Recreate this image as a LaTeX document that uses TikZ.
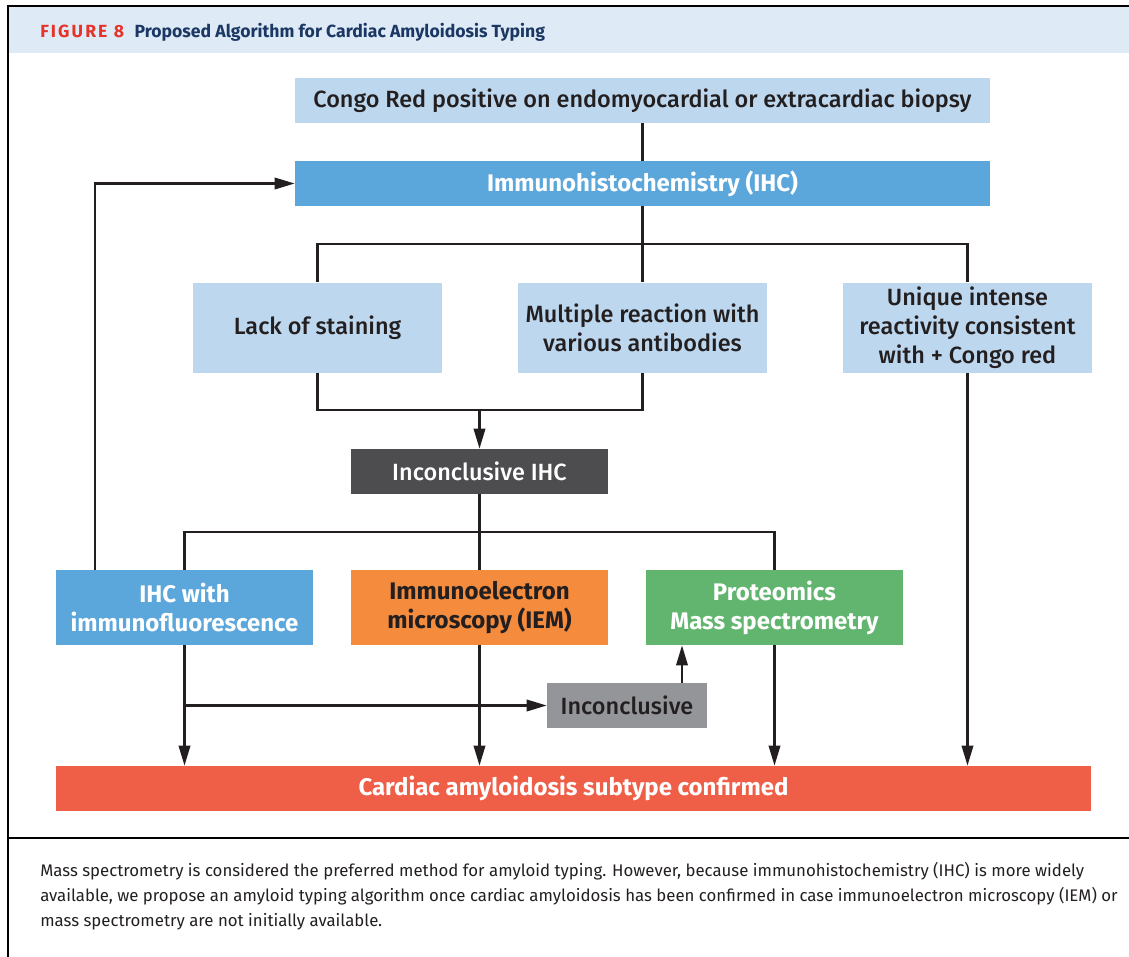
\documentclass[tikz,border=0pt]{standalone}
\usepackage{fontspec}
\setmainfont{Fira Sans}[UprightFont=* Medium, BoldFont=* Bold]
\newfontfamily\capfont{Fira Sans}
\usepackage{tikz}
\usetikzlibrary{arrows.meta,calc}

\definecolor{hdrbg}{HTML}{DEEAF6}
\definecolor{hdrnavy}{HTML}{1B3764}
\definecolor{hdrred}{HTML}{E5332A}
\definecolor{inkdark}{HTML}{231F20}
\definecolor{paleblue}{HTML}{BDD7EE}
\definecolor{ihcblue}{HTML}{5BA6DA}
\definecolor{slate}{HTML}{4D4D4F}
\definecolor{iemorange}{HTML}{F58C3D}
\definecolor{protgreen}{HTML}{62B56F}
\definecolor{incgray}{HTML}{939598}
\definecolor{confred}{HTML}{EF5E47}

\tikzset{
  box/.style={inner sep=0pt, align=center, font=\fontsize{17.6}{21.75}\selectfont},
  boldbox/.style={box, font=\bfseries\fontsize{18}{21.75}\selectfont},
  palebox/.style={box, fill=paleblue, text=inkdark},
  wline/.style={line width=1.8pt, draw=inkdark},
  arr/.style={wline, -{Triangle[length=15pt,width=8.5pt]}}
}

\begin{document}
\begin{tikzpicture}[x=0.75pt,y=0.75pt,yscale=-1,xscale=1]
\useasboundingbox (0,0) rectangle (1129,957);

% Frame and header
\fill[hdrbg] (8,7) rectangle (1129,53);
\draw[line width=1.5pt] (1129,6) -- (8,6) -- (8,957);
\draw[line width=1pt] (8,838) -- (1129,838);
\node (hdr) [anchor=base west, inner sep=0pt, font=\bfseries\fontsize{13.2}{15}\selectfont] at (40,37)
  {\textcolor{hdrred}{\addfontfeature{LetterSpace=12}FIGURE 8}\hspace{8pt}\textcolor{hdrnavy}{Proposed Algorithm for Cardiac Amyloidosis Typing}};

% Boxes
\node (congo) [palebox, minimum width=521.25pt, minimum height=33.75pt] at (642.5,100.5)
  {Congo Red positive on endomyocardial or extracardiac biopsy};
\node (ihc) [boldbox, fill=ihcblue, text=white, minimum width=521.25pt, minimum height=33.75pt] at (642.5,183.5)
  {Immunohistochemistry (IHC)};
\node (lack) [palebox, minimum width=186.75pt, minimum height=67.5pt] at (317.5,327.5)
  {Lack of staining};
\node (multi) [palebox, minimum width=186.75pt, minimum height=67.5pt] at (642.5,327.5)
  {Multiple reaction with\\various antibodies};
\node (unique) [palebox, minimum width=186.75pt, minimum height=67.5pt] at (967.5,327.5)
  {Unique intense\\reactivity consistent\\with + Congo red};
\node (incihc) [box, fill=slate, text=white, minimum width=192.75pt, minimum height=33.75pt] at (479.5,471.5)
  {Inconclusive IHC};
\node (ihcif) [boldbox, fill=ihcblue, text=white, minimum width=192.75pt, minimum height=56.25pt] at (184.5,607.5)
  {IHC with\\immunofluorescence};
\node (iem) [boldbox, fill=iemorange, text=inkdark, minimum width=192.75pt, minimum height=56.25pt] at (479.5,607.5)
  {Immunoelectron\\microscopy (IEM)};
\node (prot) [boldbox, fill=protgreen, text=white, minimum width=192.75pt, minimum height=56.25pt] at (774.5,607.5)
  {Proteomics\\Mass spectrometry};
\node (inc) [box, fill=incgray, text=inkdark, minimum width=120pt, minimum height=33.75pt] at (627,705.5)
  {Inconclusive};
\node (conf) [boldbox, fill=confred, text=white, minimum width=776.25pt, minimum height=33.75pt] at (573.5,788.5)
  {Cardiac amyloidosis subtype confirmed};

% Connectors
\coordinate (join1) at (479.5,410);
\coordinate (loopstart) at ($(ihcif.north west)+(39,0)$);
\coordinate (tee) at (ihcif.south |- inc.west);
\coordinate (incup) at ($(inc.north)+(55,0)$);

\draw[wline] (congo) -- (ihc);
\draw[arr] (loopstart) |- (ihc.west);
\draw[wline] (ihc) -- (multi);
\draw[wline] (lack.north) -- ++(0,-38) -| (unique.north);
\draw[wline] (lack.south) |- (join1) -| (multi.south);
\draw[arr] (join1) -- (incihc.north);
\draw[wline] (incihc) -- (iem);
\draw[wline] (ihcif.north) -- ++(0,-38) -| (prot.north);
\draw[arr] (ihcif.south) -- (ihcif.south |- conf.north);
\draw[arr] (tee) -- (inc.west);
\draw[arr] (iem.south) -- (iem.south |- conf.north);
\draw[arr] (incup) -- (incup |- prot.south);
\draw[arr] (prot.south) -- (prot.south |- conf.north);
\draw[arr] (unique.south) -- (unique.south |- conf.north);

% Caption
\node (caption) [anchor=base west, inner sep=0pt, align=left, text=inkdark, font=\capfont\fontsize{12.6}{18.75}\selectfont] at (40,926)
  {Mass spectrometry is considered the preferred method for amyloid typing. However, because immunohistochemistry (IHC) is more widely\\
   available, we propose an amyloid typing algorithm once cardiac amyloidosis has been confirmed in case immunoelectron microscopy (IEM) or\\
   mass spectrometry are not initially available.};

\end{tikzpicture}
\end{document}
